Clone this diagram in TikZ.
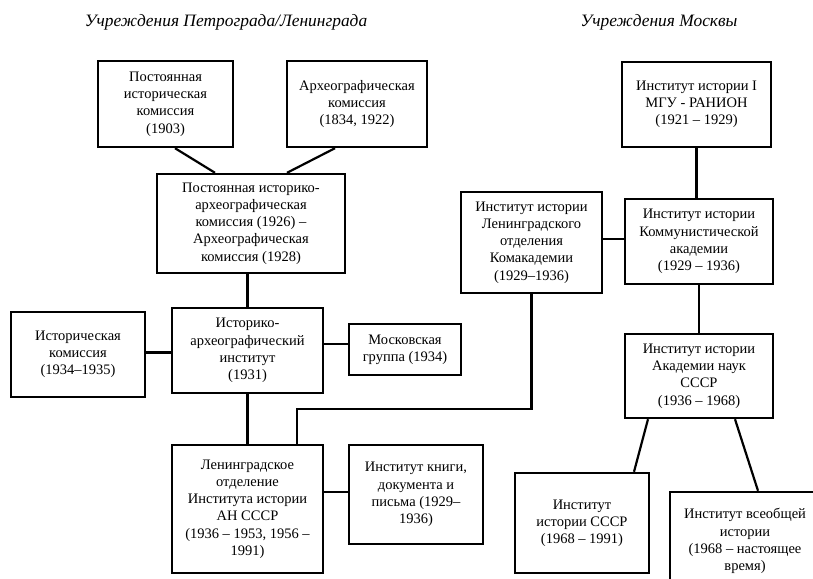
\documentclass[tikz,border=0pt]{standalone}
\usepackage{fontspec}
\setmainfont{Liberation Serif}
\usetikzlibrary{calc}
\begin{document}
\begin{tikzpicture}[x=1pt,y=-1pt,
  box/.style={draw, line width=2.4pt, align=center, inner sep=0pt,
    font=\fontsize{14.5}{17.2}\selectfont},
  conn/.style={line width=2.2pt},
  ttl/.style={font=\fontsize{17.4}{20}\selectfont\itshape, inner sep=0pt}]
\useasboundingbox (0,0) rectangle (813,578);
\clip (0,0) rectangle (813,578);
\node[ttl] (t1) at (226,22) {Учреждения Петрограда/Ленинграда};
\node[ttl] (t2) at (659,22) {Учреждения Москвы};
\node[box, minimum width=135, minimum height=86] (A) at (165.5,104) {Постоянная\\историческая\\комиссия\\(1903)};
\node[box, minimum width=140, minimum height=86] (B) at (357,104) {Археографическая\\комиссия\\(1834, 1922)};
\node[box, minimum width=188, minimum height=99] (C) at (251,223.5) {Постоянная историко-\\археографическая\\комиссия (1926) –\\Археографическая\\комиссия (1928)};
\node[box, minimum width=134, minimum height=85] (D) at (78,354.5) {Историческая\\комиссия\\(1934–1935)};
\node[box, minimum width=151, minimum height=85] (E) at (247.5,350.5) {Историко-\\археографический\\институт\\(1931)};
\node[box, minimum width=112, minimum height=51] (F) at (405,349.5) {Московская\\группа (1934)};
\node[box, minimum width=151, minimum height=128] (G) at (247.5,509) {Ленинградское\\отделение\\Института истории\\АН СССР\\(1936 – 1953, 1956 –\\1991)};
\node[box, minimum width=134, minimum height=99] (H) at (416,494.5) {Институт книги,\\документа и\\письма (1929–\\1936)};
\node[box, minimum width=149, minimum height=85] (I) at (696.5,104.5) {Институт истории I\\МГУ - РАНИОН\\(1921 – 1929)};
\node[box, minimum width=141, minimum height=101] (J) at (531.5,242.5) {Институт истории\\Ленинградского\\отделения\\Комакадемии\\(1929–1936)};
\node[box, minimum width=148, minimum height=85] (K) at (699,241.5) {Институт истории\\Коммунистической\\академии\\(1929 – 1936)};
\node[box, minimum width=148, minimum height=84] (L) at (699,376) {Институт истории\\Академии наук\\СССР\\(1936 – 1968)};
\node[box, minimum width=134, minimum height=100] (M) at (582,523) {Институт\\истории СССР\\(1968 – 1991)};
\node[box, minimum width=150, minimum height=98] (N) at (745,541) {Институт всеобщей\\истории\\(1968 – настоящее\\время)};
% connectors
\draw[conn] ($(A.south)+(9.5,0)$) -- ($(C.north)+(-36,0)$);
\draw[conn] ($(B.south)+(-22,0)$) -- ($(C.north)+(36,0)$);
\draw[conn] (E.north) -- (E.north |- C.south);
\draw[conn] ($(D.east)+(0,-2)$) -- ($(D.east -| E.west)+(0,-2)$);
\draw[conn] ($(E.east)+(0,-6.5)$) -- ($(E.east -| F.west)+(0,-6.5)$);
\draw[conn] (E.south) -- (G.north);
\draw[conn] ($(H.west -| G.east)+(0,-2.5)$) -- ($(H.west)+(0,-2.5)$);
\draw[conn] (I.south) -- (I.south |- K.north);
\draw[conn] ($(K.west -| J.east)+(0,-2.5)$) -- ($(K.west)+(0,-2.5)$);
\draw[conn] (K.south) -- (L.north);
\draw[conn] (J.south) -- ++(0,115) -| ($(G.north)+(49.5,0)$);
\draw[conn] ($(L.south)+(-51,0)$) -- ($(M.north)+(52,0)$);
\draw[conn] ($(L.south)+(36,0)$) -- ($(N.north)+(13,0)$);
\end{tikzpicture}
\end{document}
